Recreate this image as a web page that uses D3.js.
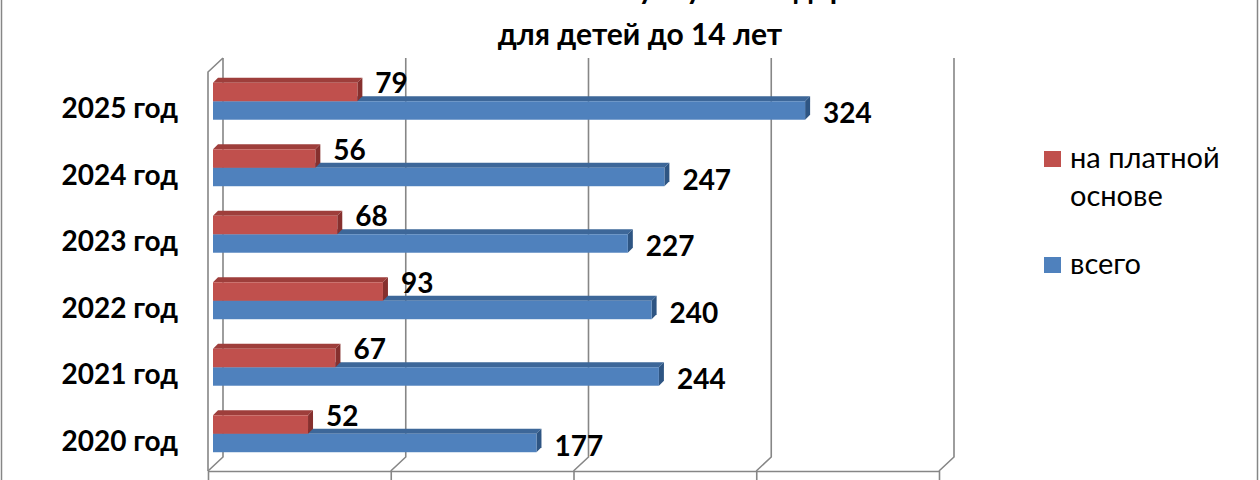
<!DOCTYPE html>
<html>
<head>
<meta charset="utf-8">
<script src="https://cdn.jsdelivr.net/npm/d3@7"></script>
<style>
  html, body { margin: 0; padding: 0; background: #fff; }
  svg { display: block; font-family: Lato, "Open Sans", sans-serif; }
</style>
</head>
<body>
<div id="chart"></div>
<script>
// Chart values, top category first
const years = ["2025 год", "2024 год", "2023 год", "2022 год", "2021 год", "2020 год"];
const paid_values = [79, 56, 68, 93, 67, 52];
const total_values = [324, 247, 227, 240, 244, 177];
const x_ticks = [0, 100, 200, 300, 400];
const title_lines = ["Количество оказанных услуг по оздоровлению", "для детей до 14 лет"];

const width = 1260;
const height = 480;

const svg = d3.select("#chart").append("svg")
    .attr("width", width)
    .attr("height", height);

// outer chart border (cropped top and bottom)
svg.append("rect")
    .attr("x", 1.5).attr("y", -10)
    .attr("width", 1256).attr("height", 500)
    .attr("fill", "none")
    .attr("stroke", "#868686")
    .attr("stroke-width", 1.5);

// title, first line is mostly above the visible area
svg.append("g").selectAll("text")
    .data(title_lines)
    .join("text")
    .attr("x", 640)
    .attr("y", (d, i) => -1 + i * 46)
    .attr("text-anchor", "middle")
    .style("font-size", "30px")
    .style("font-weight", "bold")
    .style("fill", "#000")
    .text(d => d);

// 3D projection: back wall at depth 0, floor front at depth 15
const depth_front = 15;
const depth_bar = 10;
const bar_depth = 5;

const x_back = d3.scaleLinear().domain([0, 400]).range([223, 954]);
const x_bar = v => x_back(v) - depth_bar;
const x_floor = d3.scaleLinear().domain([0, 400]).range([223 - depth_front, 954 - depth_front]);

const y_back = d3.scaleBand().domain(years).range([58, 457]);
const y_series = d3.scaleBand().domain(["paid", "total"])
    .range([0, y_back.bandwidth()])
    .paddingInner(0)
    .paddingOuter(0.8);

const y_top = 58;
const y_bottom = 457;

const grid = svg.append("g")
    .attr("fill", "none")
    .attr("stroke", "#868686")
    .attr("stroke-width", 1.6);

// back wall gridlines + diagonals to floor front
x_ticks.forEach(t => {
    const x = x_back(t);
    grid.append("path")
        .attr("d", `M${x},${y_top}V${y_bottom}L${x - depth_front},${y_bottom + depth_front - 1}`);
});

// side wall
grid.append("path")
    .attr("d", `M${x_back(0)},${y_top}L${x_back(0) - depth_front},${y_top + depth_front - 1}V${y_bottom + depth_front - 1}`);

// floor front edge as bottom axis (tick labels fall below the crop)
svg.append("g")
    .attr("transform", `translate(0,${y_bottom + depth_front - 1})`)
    .call(d3.axisBottom(x_floor).tickValues(x_ticks).tickSize(12).tickSizeOuter(0).tickFormat(""))
    .call(g => g.selectAll("line, path").attr("stroke", "#868686").attr("stroke-width", 1.6));

// category labels
svg.append("g").selectAll("text")
    .data(years)
    .join("text")
    .attr("x", 178)
    .attr("y", d => y_back(d) + y_back.bandwidth() / 2 + 16)
    .attr("text-anchor", "end")
    .attr("dominant-baseline", "central")
    .style("font-size", "28px")
    .style("font-weight", "bold")
    .style("fill", "#000")
    .text(d => d);

// bars: blue first so the red bar sits on top of it
const series = [
    { key: "total", values: total_values, front: "#4F81BD", top: "#3D6799", side: "#2E5583", label_dy: 2 },
    { key: "paid", values: paid_values, front: "#C0504D", top: "#9E3E3B", side: "#86302E", label_dy: -10 }
];

const bars_g = svg.append("g");

series.forEach(s => {
    const bar_data = years.map((year, i) => ({ year: year, value: s.values[i] }));
    const g = bars_g.append("g");

    const bar_y = d => y_back(d.year) + y_series(s.key) + depth_bar;
    const bh = y_series.bandwidth();
    const x0 = x_bar(0);

    // top face
    g.selectAll("path.top")
        .data(bar_data)
        .join("path")
        .attr("class", "top")
        .attr("fill", s.top)
        .attr("d", d => {
            const x1 = x_bar(d.value), y = bar_y(d);
            return `M${x0},${y}L${x1},${y}L${x1 + bar_depth},${y - bar_depth}L${x0 + bar_depth},${y - bar_depth}Z`;
        });

    // right side face
    g.selectAll("path.side")
        .data(bar_data)
        .join("path")
        .attr("class", "side")
        .attr("fill", s.side)
        .attr("d", d => {
            const x1 = x_bar(d.value), y = bar_y(d);
            return `M${x1},${y}L${x1 + bar_depth},${y - bar_depth}L${x1 + bar_depth},${y + bh - bar_depth}L${x1},${y + bh}Z`;
        });

    // front face
    g.selectAll("rect.front")
        .data(bar_data)
        .join("rect")
        .attr("class", "front")
        .attr("x", x0)
        .attr("y", d => bar_y(d))
        .attr("width", d => x_bar(d.value) - x0)
        .attr("height", bh)
        .attr("fill", s.front);

    // value labels
    g.selectAll("text")
        .data(bar_data)
        .join("text")
        .attr("x", d => x_bar(d.value) + 18)
        .attr("y", d => bar_y(d) + bh / 2 + s.label_dy)
        .attr("dominant-baseline", "central")
        .style("font-size", "28px")
        .style("font-weight", "bold")
        .style("fill", "#000")
        .text(d => d.value);
});

// legend
const legend = svg.append("g");
const legend_items = [
    { lines: ["на платной", "основе"], color: "#C0504D", y: 151 },
    { lines: ["всего"], color: "#4F81BD", y: 257 }
];
legend_items.forEach(item => {
    legend.append("rect")
        .attr("x", 1044).attr("y", item.y)
        .attr("width", 17).attr("height", 16)
        .attr("fill", item.color);
    legend.append("g").selectAll("text")
        .data(item.lines)
        .join("text")
        .attr("x", 1070)
        .attr("y", (d, j) => item.y + 17 + j * 38)
        .style("font-size", "29px")
        .style("fill", "#000")
        .text(d => d);
});
</script>
</body>
</html>
